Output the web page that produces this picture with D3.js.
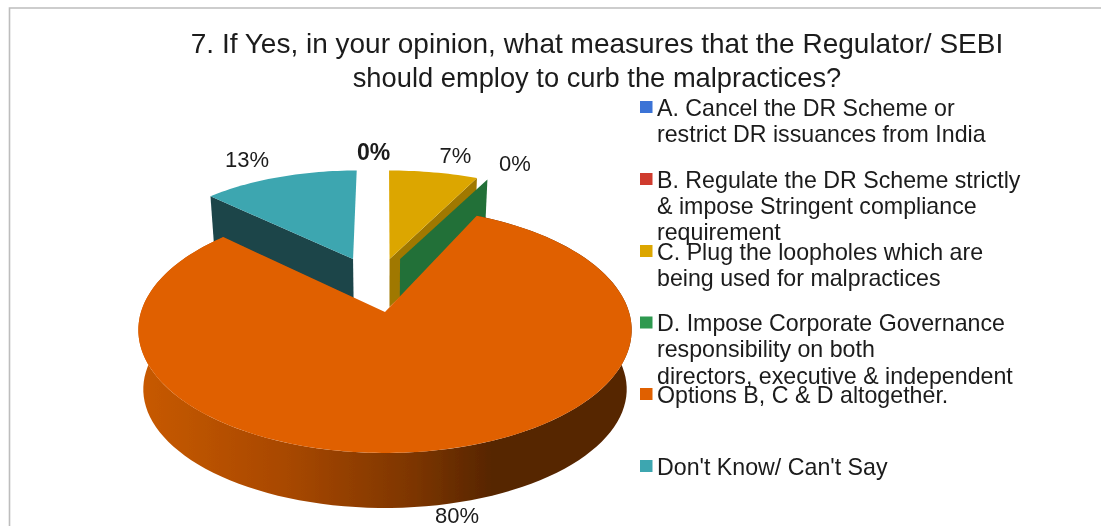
<!DOCTYPE html>
<html>
<head>
<meta charset="utf-8">
<script src="https://cdn.jsdelivr.net/npm/d3@7"></script>
<style>
  body { margin: 0; background: #fff; }
  svg { display: block; }
  text { font-family: "Liberation Sans", Arial, sans-serif; fill: #1a1a1a; }
</style>
</head>
<body>
<svg id="chart" width="1101" height="526"></svg>
<script>
var titleLines = ["7. If Yes, in your opinion, what measures that the Regulator/ SEBI", "should employ to curb the malpractices?"];
var categories = ["A", "B", "C", "D", "E", "F"];
var values = [0, 0, 7, 0, 80, 13];
var colors = ["#3a73d6", "#cf3b2e", "#dca600", "#2f9950", "#e06000", "#3ca6b0"];
var wallColors = ["#2a5398", "#8f2a20", "#a07800", "#217038", "#e06000", "#1a444a"];
var legendLines = [
  ["A. Cancel the DR Scheme or", "restrict DR issuances from India"],
  ["B. Regulate the DR Scheme strictly", "& impose Stringent compliance", "requirement"],
  ["C. Plug the loopholes which are", "being used for malpractices"],
  ["D. Impose Corporate Governance", "responsibility on both", "directors, executive & independent"],
  ["Options B, C & D altogether."],
  ["Don't Know/ Can't Say"]
];
var legendY = [107, 179, 251, 322.5, 394, 466];
var pieLabels = ["0%", "7%", "0%", "13%", "80%"];

var svg = d3.select("#chart");

// frame of the pasted picture, only top and left show
svg.append("path").attr("d", "M9.5,526V8H1101")
  .attr("fill", "none").attr("stroke", "#bdbdbd").attr("stroke-width", 1.6);

// perspective pie: unit circle (u, v) goes through this to screen
var cx = 385, persp = 0.1463, scaleX = 244;
function project(u, v) {
  var w = 1 + persp * v;
  return [cx + scaleX * u / w, (312 - 74.7 * v) / w];
}

// how far each slice is pulled out, in circle units
var explode = {
  A: {du: 0, dv: 0.47, ru: 0.95, rv: 0.95, depth: 48},
  B: {du: 0, dv: 0.47, ru: 0.95, rv: 0.95, depth: 48},
  C: {du: 0.02, dv: 0.47, ru: 1.01, rv: 0.95, depth: 48},
  D: {du: 0.066, dv: 0.47, ru: 1.02, rv: 0.93, depth: 44},
  E: {du: 0, dv: 0, ru: 1, rv: 1, depth: null},
  F: {du: -0.14, dv: 0.47, ru: 0.95, rv: 0.95, depth: 48}
};

var pie = d3.pie().sort(null).value(function(d) { return d; });
var arcs = pie(values);

function point(a, r, ex) {
  return project(r * ex.ru * Math.sin(a) + ex.du, r * ex.rv * Math.cos(a) + ex.dv);
}
function sideDepth(a) {
  return 60 + 5 * Math.min(0, Math.cos(a));
}
function lower(p, d) {
  return [cx + (p[0] - cx) * 0.98, p[1] + d];
}
function topPath(d, ex) {
  var pts = [point(0, 0, ex)];
  var n = Math.max(2, Math.ceil((d.endAngle - d.startAngle) * 40));
  d3.range(n + 1).forEach(function(i) {
    pts.push(point(d.startAngle + (d.endAngle - d.startAngle) * i / n, 1, ex));
  });
  return d3.line()(pts) + "Z";
}

var defs = svg.append("defs");
var grad = defs.append("linearGradient").attr("id", "wallGrad")
  .attr("gradientUnits", "userSpaceOnUse")
  .attr("x1", cx - 247).attr("x2", cx + 247).attr("y1", 0).attr("y2", 0);
[[0, "#c85a00"], [0.3, "#a84800"], [0.55, "#7e3600"], [0.72, "#562500"], [1, "#572500"]].forEach(function(s) {
  grad.append("stop").attr("offset", s[0]).attr("stop-color", s[1]);
});
defs.append("filter").attr("id", "soft").append("feGaussianBlur").attr("stdDeviation", 0.45);

var chart = svg.append("g").attr("filter", "url(#soft)");

// back slices first, the big one goes over them
var drawOrder = [0, 1, 5, 2, 3, 4];
drawOrder.forEach(function(i) {
  var d = arcs[i], ex = explode[categories[i]];
  if (ex.depth !== null) {
    // cut face
    var cutA = categories[i] === "F" ? d.startAngle : d.endAngle;
    var a0 = point(0, 0, ex), a1 = point(cutA, 1, ex);
    chart.append("path")
      .attr("d", d3.line()([a0, a1, lower(a1, ex.depth), lower(a0, ex.depth)]) + "Z")
      .attr("fill", wallColors[i]);
    chart.append("path").attr("d", topPath(d, ex)).attr("fill", colors[i]);
  } else {
    // outer wall of the big slice
    var front = d3.range(0, 121).map(function(k) { return d.startAngle + (d.endAngle - d.startAngle) * k / 120; });
    var up = front.map(function(a) { return point(a, 1, ex); });
    var down = front.map(function(a) { return lower(point(a, 1, ex), sideDepth(a)); }).reverse();
    chart.append("path").attr("d", d3.line()(up.concat(down)) + "Z").attr("fill", "url(#wallGrad)");
    chart.append("path").attr("d", topPath(d, ex)).attr("fill", colors[i]);
  }
});

// title
var title = svg.append("g").attr("filter", "url(#soft)");
titleLines.forEach(function(t, i) {
  title.append("text").attr("x", 597).attr("y", 53 + i * 34)
    .attr("text-anchor", "middle").attr("font-size", i === 0 ? 28 : 27.3).text(t);
});

// data labels
var labelPos = [[373.5, 160], [455.5, 163], [515, 171], [247, 167], [457, 523]];
pieLabels.forEach(function(t, i) {
  title.append("text").attr("x", labelPos[i][0]).attr("y", labelPos[i][1])
    .attr("text-anchor", "middle").attr("font-size", i === 0 ? 23 : 22)
    .attr("font-weight", i === 0 ? "bold" : "normal").text(t);
});

// legend
var legend = svg.append("g").attr("filter", "url(#soft)");
legendLines.forEach(function(lines, i) {
  legend.append("rect").attr("x", 640).attr("y", legendY[i] - 6)
    .attr("width", 12.5).attr("height", 12).attr("fill", colors[i]);
  lines.forEach(function(t, j) {
    legend.append("text").attr("x", 657).attr("y", legendY[i] + 8.5 + j * 26.4)
      .attr("font-size", 23.2).text(t);
  });
});
</script>
</body>
</html>
